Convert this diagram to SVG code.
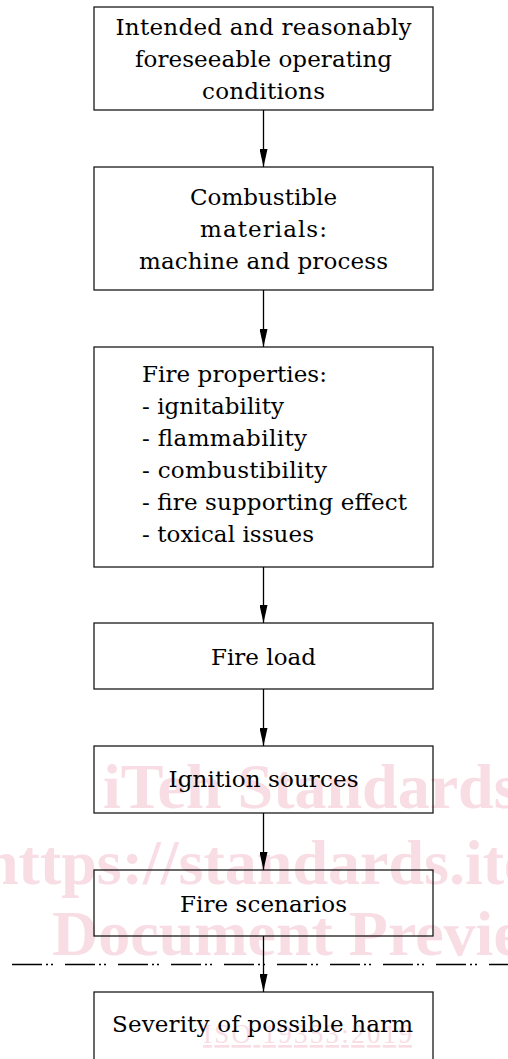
<svg xmlns="http://www.w3.org/2000/svg" width="508" height="1059" viewBox="0 0 508 1059">
<style>
.wm{font-family:"Liberation Serif",serif;font-weight:bold;font-size:64px;fill:#f8dde5}
.wl{font-family:"Liberation Serif",serif;font-size:27px;fill:#f8dde5;text-decoration:underline}
.box{fill:none;stroke:#1a1a1a;stroke-width:1.3}
.t{font-family:"DejaVu Serif","Liberation Serif",serif;font-size:23px;fill:#000}
.c{text-anchor:middle}
.conn{stroke:#000;stroke-width:1.3;fill:none}
.sep{stroke:#000;stroke-width:1.4;fill:none;stroke-dasharray:30 4 2 3 2 12}
</style>
<defs>
<marker id="ah" markerUnits="userSpaceOnUse" markerWidth="18" markerHeight="8" refX="18" refY="4" orient="auto">
<path d="M0,0 L18,4 L0,8 Z" fill="#000"/>
</marker>
</defs>
<g id="watermark">
<text class="wm" x="103" y="808">iTeh Standards</text>
<text class="wm" x="-17" y="884">https://standards.ite</text>
<text class="wm" x="52" y="955">Document Previe</text>
<text class="wl" x="203" y="1043" textLength="209">ISO 19353:2019</text>
</g>
<g id="n1">
<rect class="box" x="94" y="7" width="339" height="103"/>
<text class="t c" x="263.5" y="35" textLength="296">Intended and reasonably</text>
<text class="t c" x="263.5" y="67" textLength="257">foreseeable operating</text>
<text class="t c" x="263.5" y="99" textLength="123">conditions</text>
</g>
<g id="n2">
<rect class="box" x="94" y="167" width="339" height="123"/>
<text class="t c" x="263.5" y="205" textLength="147">Combustible</text>
<text class="t c" x="263.5" y="237" textLength="127">materials:</text>
<text class="t c" x="263.5" y="269" textLength="249">machine and process</text>
</g>
<g id="n3">
<rect class="box" x="94" y="347" width="339" height="220"/>
<text class="t" x="142" y="382" textLength="185">Fire properties:</text>
<text class="t" x="142" y="414" textLength="142">- ignitability</text>
<text class="t" x="142" y="446" textLength="165">- flammability</text>
<text class="t" x="142" y="478" textLength="185">- combustibility</text>
<text class="t" x="142" y="510" textLength="265">- fire supporting effect</text>
<text class="t" x="142" y="542" textLength="172">- toxical issues</text>
</g>
<g id="n4">
<rect class="box" x="94" y="623" width="339" height="66"/>
<text class="t c" x="263.5" y="665" textLength="105">Fire load</text>
</g>
<g id="n5">
<rect class="box" x="94" y="746" width="339" height="67"/>
<text class="t c" x="263.5" y="787" textLength="190">Ignition sources</text>
</g>
<g id="n6">
<rect class="box" x="94" y="870" width="339" height="66"/>
<text class="t c" x="263.5" y="912" textLength="167">Fire scenarios</text>
</g>
<g id="n7">
<rect class="box" x="94" y="992" width="339" height="80"/>
<text class="t c" x="262.5" y="1032" textLength="301">Severity of possible harm</text>
</g>
<g id="connectors">
<line class="sep" x1="12" y1="964.5" x2="508" y2="964.5"/>
<line class="conn" x1="263.5" y1="110" x2="263.5" y2="167" marker-end="url(#ah)"/>
<line class="conn" x1="263.5" y1="290" x2="263.5" y2="347" marker-end="url(#ah)"/>
<line class="conn" x1="263.5" y1="567" x2="263.5" y2="623" marker-end="url(#ah)"/>
<line class="conn" x1="263.5" y1="689" x2="263.5" y2="746" marker-end="url(#ah)"/>
<line class="conn" x1="263.5" y1="813" x2="263.5" y2="870" marker-end="url(#ah)"/>
<line class="conn" x1="263.5" y1="936" x2="263.5" y2="992" marker-end="url(#ah)"/>
</g>
</svg>
